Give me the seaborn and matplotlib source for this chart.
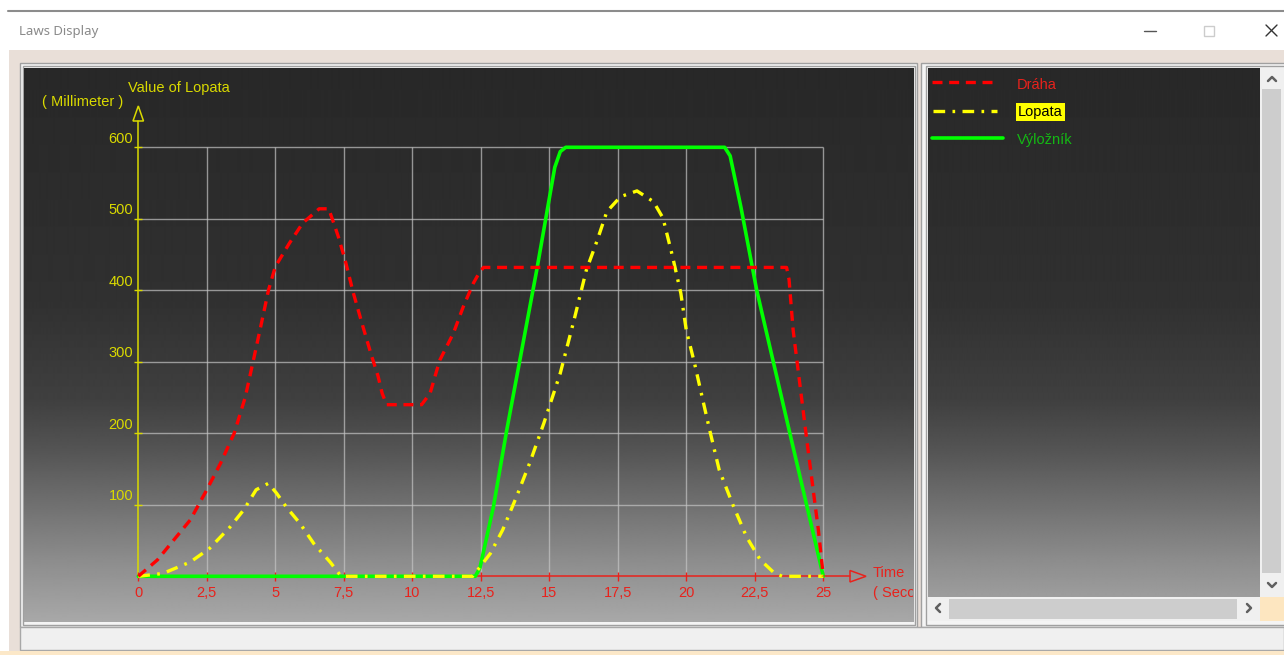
import numpy as np
import matplotlib
matplotlib.use('Agg')
import matplotlib.pyplot as plt
from matplotlib.patches import Rectangle, Polygon
import seaborn as sns

time_ticks = [0, 2.5, 5, 7.5, 10, 12.5, 15, 17.5, 20, 22.5, 25]
time_labels = ['0', '2,5', '5', '7,5', '10', '12,5', '15', '17,5', '20', '22,5', '25']
value_ticks = [100, 200, 300, 400, 500, 600]
series_names = ['Dráha', 'Lopata', 'Výložník']

draha_t = [0, 0.7, 1.3, 1.9, 2.5, 3.0, 3.5, 3.9, 4.2, 4.5, 4.75, 5.0, 5.5, 6.0, 6.6,
           6.95, 7.15, 7.3, 7.55, 7.85, 8.2, 8.5, 8.75, 8.9, 9.06, 10.34, 10.65, 11.0,
           11.5, 11.86, 12.23, 12.45, 12.6, 23.66, 23.75, 23.9, 24.15, 24.4, 24.63,
           24.82, 25.0]
draha_v = [0, 23, 51, 79, 121, 158, 200, 250, 302, 355, 400, 433, 465, 494, 514,
           514, 492, 475, 442, 396, 349, 310, 280, 256, 240, 240, 256, 302,
           340, 377, 410, 425, 432, 432, 415, 344, 267, 190, 121,
           65, 0]

lopata_t = [0, 0.9, 1.9, 2.6, 3.35, 3.85, 4.3, 4.75, 5.05, 5.4, 5.9, 6.4, 7.0, 7.4,
            12.2, 12.45, 12.85, 13.3, 13.8, 14.3, 14.8, 15.4, 15.9, 16.35, 16.75,
            17.1, 17.6, 18.2, 18.8, 19.15, 19.5, 19.8, 20.0, 20.3, 20.6, 20.85, 21.2,
            21.7, 22.2, 22.7, 23.2, 23.5, 25.0]
lopata_v = [0, 4, 20, 39, 69, 93, 121, 130, 116, 97, 74, 46, 20, 0,
            0, 12, 32, 65, 111, 160, 214, 284, 358, 428, 470,
            510, 531, 539, 524, 501, 447, 396, 344, 298, 247, 205, 149,
            100, 55, 23, 5, 0, 0]

vyloznik_t = [0, 12.3, 12.47, 12.96, 13.45, 14.54, 15.2, 15.4, 15.6, 21.4, 21.6,
              22.0, 22.57, 23.78, 25.0]
vyloznik_v = [0, 0, 12, 97, 205, 428, 572, 594, 600, 600, 588,
              515, 400, 200, 0]

W, H = 1284, 655
sns.set_style('white')
plt.rcParams['font.family'] = ['Liberation Sans', 'DejaVu Sans']

RED, YEL, GRN = '#ff0000', '#ffff00', '#00ff00'
RED_TXT, YEL_TXT, GRN_TXT = '#e8221c', '#dada00', '#14b814'
FS = 10.5

# pixel mapping of the plot panel
X0, XS = 138.3, 27.4     # px of t=0, px per second
Y0, YS = 576.3, 0.715    # px of 0 mm, px per mm


def tx(px):
    return (px - X0) / XS


def ty(py):
    return (Y0 - py) / YS


def frac(l, t, r, b):
    return [l / W, 1 - b / H, (r - l) / W, (b - t) / H]


def shade(py):
    return np.interp(py, [68, 300, 400, 450, 500, 560, 622],
                     [0.157, 0.19, 0.25, 0.33, 0.43, 0.55, 0.66])


fig = plt.figure(figsize=(W / 100, H / 100), dpi=100, facecolor='white')

# window chrome, in screen pixels
bg = fig.add_axes([0, 0, 1, 1])
bg.set_xlim(0, W)
bg.set_ylim(H, 0)
bg.set_axis_off()
bg.plot([8, W], [10.5, 10.5], color='#8c8c8c', lw=1.5)
bg.text(19, 31, 'Laws Display', color='#8a8a8a', fontsize=9.5, va='center',
        family=['Noto Sans', 'DejaVu Sans'])
bg.plot([1144, 1156], [31, 31], color='#555555', lw=1)
bg.add_patch(Rectangle((1204, 26), 10, 10, fc='none', ec='#cccccc', lw=1))
bg.plot([1266, 1277], [25, 36], color='#333333', lw=1)
bg.plot([1266, 1277], [36, 25], color='#333333', lw=1)
bg.add_patch(Rectangle((9, 50), W - 9, 601, fc='#e9dfd8', ec='none'))
bg.add_patch(Rectangle((20, 63), 897, 564, fc='#f4f4f4', ec='#a0a0a0', lw=1))
bg.add_patch(Rectangle((22.5, 65.5), 892, 559, fc='none', ec='#a0a0a0', lw=1))
bg.add_patch(Rectangle((921, 63), 370, 564, fc='#f4f4f4', ec='#a0a0a0', lw=1))
bg.add_patch(Rectangle((925.5, 65.5), 370, 559, fc='none', ec='#a0a0a0', lw=1))
bg.add_patch(Rectangle((1260, 68), 24, 529, fc='#f0f0f0', ec='none'))
bg.add_patch(Rectangle((1262, 89), 19, 484, fc='#cdcdcd', ec='none'))
bg.add_patch(Rectangle((928, 597), 332, 24, fc='#f0f0f0', ec='none'))
bg.add_patch(Rectangle((949, 599), 288, 20, fc='#cdcdcd', ec='none'))
bg.add_patch(Rectangle((1260, 597), 24, 24, fc='#fde6c0', ec='none'))
chev = dict(color='#606060', lw=1.8)
bg.plot([1268, 1272, 1276], [81, 77, 81], **chev)
bg.plot([1268, 1272, 1276], [583, 587, 583], **chev)
bg.plot([940, 936, 940], [604, 608, 612], **chev)
bg.plot([1247, 1251, 1247], [604, 608, 612], **chev)
bg.add_patch(Rectangle((20, 627), W - 20, 23, fc='#f0f0f0', ec='#a8a8a8', lw=1))
bg.add_patch(Rectangle((0, 651), W, 4, fc='#fce8c8', ec='none'))

# plot panel
ax = fig.add_axes(frac(24, 68, 913, 622))
rows = np.arange(68, 622) + 0.5
ax.imshow(np.repeat(shade(rows)[:, None], 2, axis=1), cmap='gray', vmin=0, vmax=1,
          extent=[tx(24), tx(913), ty(622), ty(68)], aspect='auto',
          origin='upper', interpolation='bilinear', zorder=0)
ax.set_xlim(tx(24), tx(913))
ax.set_ylim(ty(622), ty(68))
ax.set_axis_off()

ax.hlines(value_ticks, 0, 25, color='#c4c4c4', lw=1, alpha=0.7, zorder=1)
ax.vlines(time_ticks[1:], 0, 600, color='#c4c4c4', lw=1, alpha=0.7, zorder=1)

# axes with open arrow heads
ax.plot([0, 0], [0, ty(121)], color=YEL_TXT, lw=1.1, zorder=2)
ax.add_patch(Polygon([[tx(133), ty(121)], [tx(143.5), ty(121)], [0, ty(106)]],
                     closed=True, fill=False, ec=YEL_TXT, lw=1.1, zorder=2))
ax.plot([0, tx(850)], [0, 0], color=RED_TXT, lw=1.1, zorder=2)
ax.add_patch(Polygon([[tx(850), ty(570.5)], [tx(850), ty(582)], [tx(866), 0]],
                     closed=True, fill=False, ec=RED_TXT, lw=1.1, zorder=2))
ax.vlines(time_ticks, ty(581), ty(572), color=RED_TXT, lw=1, zorder=2)
ax.hlines(value_ticks, tx(134), tx(142), color=YEL_TXT, lw=1, zorder=2)

for t, lbl in zip(time_ticks, time_labels):
    ax.text(t, ty(593), lbl, color=RED_TXT, fontsize=FS, ha='center', va='center')
for v in value_ticks:
    ax.text(tx(133), v + 12, str(v), color=YEL_TXT, fontsize=FS, ha='right', va='center')

ax.text(tx(128), ty(88), 'Value of Lopata', color=YEL_TXT, fontsize=FS, va='center')
ax.text(tx(42), ty(102), '( Millimeter )', color=YEL_TXT, fontsize=FS, va='center')
ax.text(tx(873), ty(573), 'Time', color=RED_TXT, fontsize=FS, va='center', clip_on=True)
ax.text(tx(873), ty(593), '( Seconds )', color=RED_TXT, fontsize=FS, va='center',
        clip_on=True)

# the three laws
sns.lineplot(x=vyloznik_t, y=vyloznik_v, ax=ax, color=GRN, lw=2.6,
             estimator=None, sort=False, zorder=3)
sns.lineplot(x=lopata_t, y=lopata_v, ax=ax, color=YEL, lw=2.4,
             linestyle=(0, (3.5, 2.2, 0.8, 2.2)), estimator=None, sort=False, zorder=4)
sns.lineplot(x=draha_t, y=draha_v, ax=ax, color=RED, lw=2.4,
             linestyle=(0, (3, 2)), estimator=None, sort=False, zorder=5)
ax.set_xlim(tx(24), tx(913))
ax.set_ylim(ty(622), ty(68))

# legend panel
axl = fig.add_axes(frac(928, 68, 1260, 597))
rows_l = np.arange(68, 597) + 0.5
axl.imshow(np.repeat(shade(rows_l)[:, None], 2, axis=1), cmap='gray', vmin=0, vmax=1,
           extent=[928, 1260, 597, 68], aspect='auto', origin='upper',
           interpolation='bilinear', zorder=0)
axl.set_xlim(928, 1260)
axl.set_ylim(597, 68)
axl.set_axis_off()
axl.plot([932, 996], [82.5, 82.5], color=RED, lw=2.4, linestyle=(0, (3, 2)))
axl.plot([933, 997], [111, 111], color=YEL, lw=2.4, linestyle=(0, (3.5, 2.2, 0.8, 2.2)))
axl.plot([932, 1003], [138.5, 138.5], color=GRN, lw=2.6)
axl.text(1017, 85, series_names[0], color=RED_TXT, fontsize=FS, va='center')
axl.text(1018, 112, series_names[1], color='black', fontsize=FS, va='center',
         bbox=dict(boxstyle='square,pad=0.12', fc='#ffff00', ec='none'))
axl.text(1017, 140, series_names[2], color=GRN_TXT, fontsize=FS, va='center')

fig.savefig('out.png', dpi=100, facecolor='white')
